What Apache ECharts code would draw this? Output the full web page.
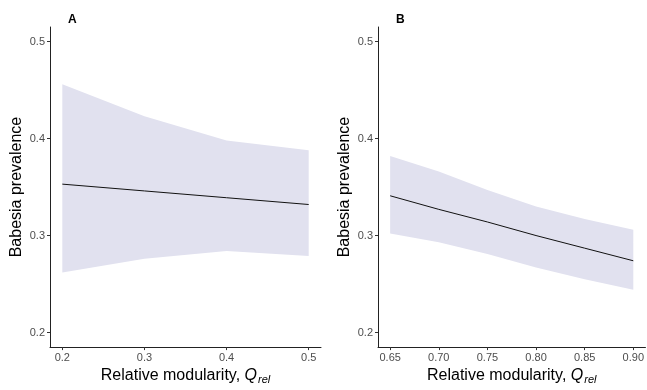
<!DOCTYPE html>
<html>
<head>
<meta charset="utf-8">
<script src="https://cdn.jsdelivr.net/npm/echarts@6/dist/echarts.min.js"></script>
<style>
  html, body { margin: 0; padding: 0; background: #fff; }
  #chart { width: 647px; height: 390px; }
</style>
</head>
<body>
<div id="chart"></div>
<script>
// panel A: relative modularity vs prevalence
var xA = [0.2, 0.3, 0.4, 0.5];
var fitA = [0.353, 0.346, 0.339, 0.332];
var lowA = [0.262, 0.276, 0.284, 0.279];
var upA = [0.456, 0.423, 0.398, 0.388];

// panel B
var xB = [0.65, 0.70, 0.75, 0.80, 0.85, 0.90];
var fitB = [0.341, 0.327, 0.314, 0.300, 0.287, 0.274];
var lowB = [0.302, 0.293, 0.281, 0.267, 0.255, 0.244];
var upB = [0.382, 0.366, 0.347, 0.330, 0.317, 0.306];

var yTicks = [0.2, 0.3, 0.4, 0.5];
var xTicksA = [0.2, 0.3, 0.4, 0.5];
var xTicksB = [0.65, 0.70, 0.75, 0.80, 0.85, 0.90];

var FONT = 'Liberation Sans, Arial, sans-serif';
var BAND = '#e1e1ef';

function pairs(xs, ys) {
  var out = [];
  for (var i = 0; i < xs.length; i++) out.push([xs[i], ys[i]]);
  return out;
}
function triples(xs, lo, hi) {
  var out = [];
  for (var i = 0; i < xs.length; i++) out.push([xs[i], lo[i], hi[i]]);
  return out;
}

var xName = 'Relative modularity, {q|Q}{sub|rel}';
var nameRich = {
  q: { fontStyle: 'italic', fontSize: 16, fontFamily: FONT, color: '#000' },
  sub: { fontStyle: 'italic', fontSize: 11, fontFamily: FONT, color: '#000', verticalAlign: 'bottom', padding: [7, 0, 0, 1] }
};

function xAxis(idx, min, max, ticks, dec) {
  return {
    type: 'value', gridIndex: idx, min: min, max: max,
    name: xName, nameLocation: 'middle', nameGap: 19,
    nameTextStyle: { fontSize: 16, fontFamily: FONT, color: '#000', rich: nameRich },
    axisLine: { lineStyle: { color: '#222', width: 1 } },
    axisTick: { show: true, length: 3, lineStyle: { color: '#333' }, customValues: ticks },
    axisLabel: { fontSize: 11, fontFamily: FONT, color: '#4d4d4d', margin: 5, customValues: ticks,
      formatter: function (v) { return v.toFixed(dec); } },
    splitLine: { show: false }
  };
}
function yAxis(idx) {
  return {
    type: 'value', gridIndex: idx, min: 0.185, max: 0.515,
    name: 'Babesia prevalence', nameLocation: 'middle', nameGap: 25,
    nameTextStyle: { fontSize: 16, fontFamily: FONT, color: '#000' },
    axisLine: { show: true, lineStyle: { color: '#222', width: 1 } },
    axisTick: { show: true, length: 3, lineStyle: { color: '#333' }, customValues: yTicks },
    axisLabel: { fontSize: 11, fontFamily: FONT, color: '#4d4d4d', margin: 5, customValues: yTicks,
      formatter: function (v) { return v.toFixed(1); } },
    splitLine: { show: false }
  };
}

// ribbon drawn as one polygon through the axis scales
function ribbon(params, api) {
  if (params.dataIndex !== 0) return;
  var n = params.dataInsideLength;
  var top = [], bot = [];
  for (var i = 0; i < n; i++) {
    var x = api.value(0, i);
    bot.push(api.coord([x, api.value(1, i)]));
    top.push(api.coord([x, api.value(2, i)]));
  }
  var pts = bot.concat(top.reverse());
  return { type: 'polygon', shape: { points: pts }, style: { fill: BAND } };
}

function bandSeries(idx, xs, lo, hi, fit) {
  return [
    { type: 'custom', xAxisIndex: idx, yAxisIndex: idx, data: triples(xs, lo, hi),
      renderItem: ribbon, encode: { x: 0, y: [1, 2] }, silent: true, z: 1 },
    { type: 'line', xAxisIndex: idx, yAxisIndex: idx, data: pairs(xs, fit),
      symbol: 'none', lineStyle: { color: '#111', width: 1 }, silent: true, z: 5 }
  ];
}

var chart = echarts.init(document.getElementById('chart'));
chart.setOption({
  animation: false,
  backgroundColor: '#fff',
  title: [
    { text: 'A', left: 63, top: 9, textStyle: { fontSize: 12, fontWeight: 'bold', fontFamily: FONT, color: '#000' } },
    { text: 'B', left: 391, top: 9, textStyle: { fontSize: 12, fontWeight: 'bold', fontFamily: FONT, color: '#000' } }
  ],
  grid: [
    { left: 50, top: 27, width: 271, height: 323 },
    { left: 378, top: 27, width: 269, height: 323 }
  ],
  xAxis: [
    xAxis(0, 0.185, 0.515, xTicksA, 1),
    xAxis(1, 0.6375, 0.9125, xTicksB, 2)
  ],
  yAxis: [yAxis(0), yAxis(1)],
  series: bandSeries(0, xA, lowA, upA, fitA).concat(bandSeries(1, xB, lowB, upB, fitB))
});
</script>
</body>
</html>
